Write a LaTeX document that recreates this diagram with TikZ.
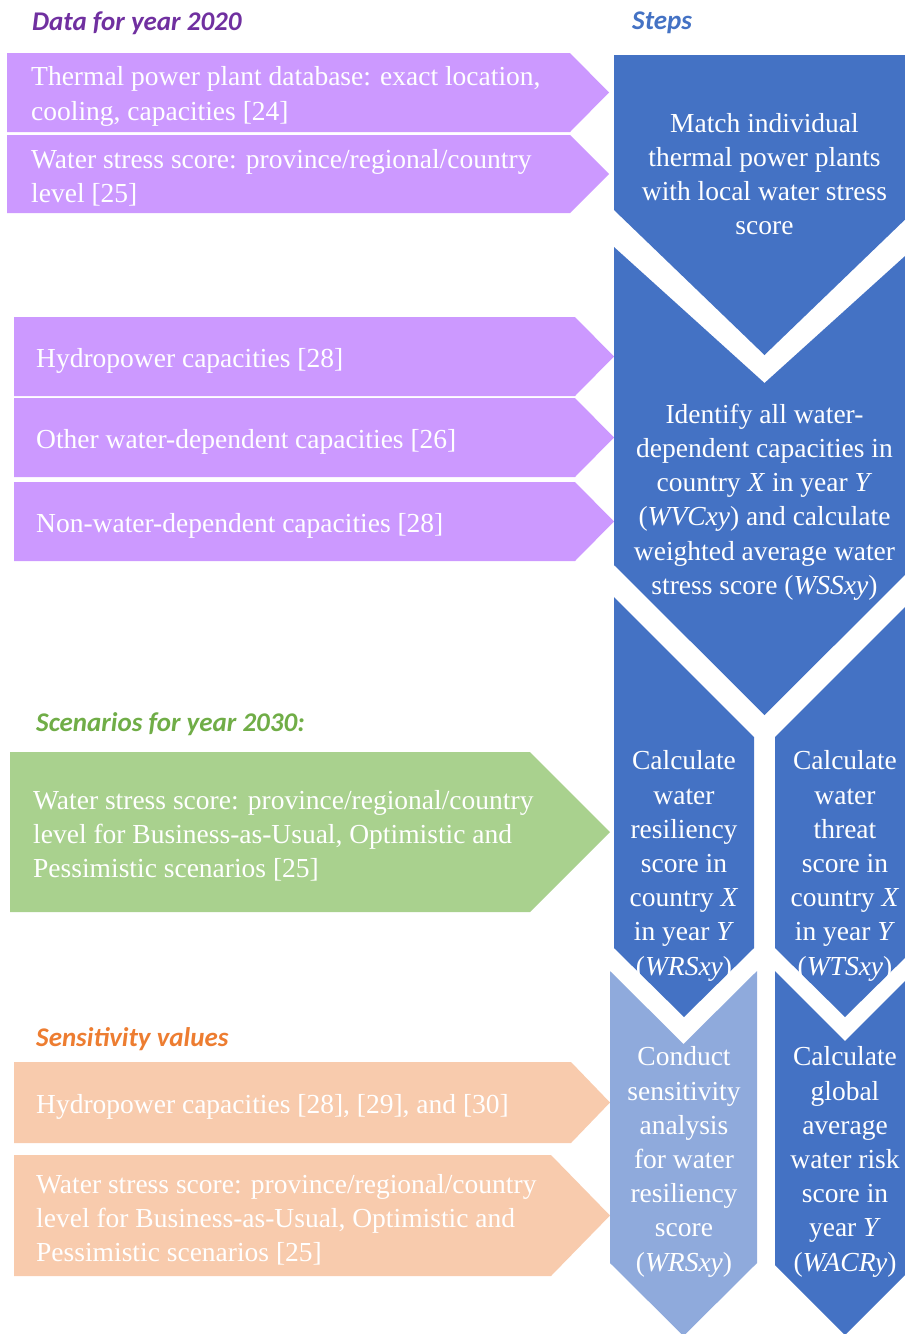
\documentclass[tikz,border=0pt]{standalone}
\usepackage{fontspec}
\setmainfont{Liberation Serif}
\newfontfamily\headfont{Carlito}
\definecolor{cPurple}{HTML}{CC99FF}
\definecolor{cDarkPurple}{HTML}{7030A0}
\definecolor{cGreen}{HTML}{A9D18E}
\definecolor{cDarkGreen}{HTML}{70AD47}
\definecolor{cOrange}{HTML}{F8CBAD}
\definecolor{cDarkOrange}{HTML}{ED7D31}
\definecolor{cBlue}{HTML}{4472C4}
\definecolor{cLightBlue}{HTML}{8FAADC}

\begin{document}
\begin{tikzpicture}[x=1pt,y=-1pt,
		heading/.style={anchor=base west,inner sep=0pt,font=\headfont\bfseries\itshape\fontsize{27}{32}\selectfont},
		boxtext/.style={anchor=west,align=left,text=white,inner sep=0pt,yshift=-4pt,font=\fontsize{27.5}{34.2}\selectfont},
		steptext/.style={align=center,text=white,inner sep=0pt,yshift=-3pt,font=\fontsize{27.5}{34.2}\selectfont}]
		\useasboundingbox (0,0) rectangle (905,1334);
		\clip (0,0) rectangle (905,1334);
		% headings
		\node[heading,text=cDarkPurple] (hdata) at (32,30) {Data for year 2020};
		\node[heading,text=cBlue] (hsteps) at (632,29) {Steps};
		\node[heading,text=cDarkGreen] (hscen) at (36,731) {Scenarios for year 2030:};
		\node[heading,text=cDarkOrange] (hsens) at (36,1046) {Sensitivity values};
		% input arrows
		\fill[cPurple] (7,53) -- (570,53) -- (609,92.5) -- (570,132) -- (7,132) -- cycle;
		\fill[cPurple] (7,135) -- (570,135) -- (609,174) -- (570,213) -- (7,213) -- cycle;
		\fill[cPurple] (14,317) -- (575,317) -- (614,356.5) -- (575,396) -- (14,396) -- cycle;
		\fill[cPurple] (14,398) -- (575,398) -- (614,437.5) -- (575,477) -- (14,477) -- cycle;
		\fill[cPurple] (14,482) -- (575,482) -- (614,521.5) -- (575,561) -- (14,561) -- cycle;
		\fill[cGreen] (10,752) -- (530,752) -- (610,832) -- (530,912) -- (10,912) -- cycle;
		\fill[cOrange] (14,1062) -- (571,1062) -- (610,1102.5) -- (571,1143) -- (14,1143) -- cycle;
		\fill[cOrange] (14,1155) -- (551,1155) -- (610,1215.5) -- (551,1276) -- (14,1276) -- cycle;
		\node[boxtext] (thermal) at (31,92.5) {Thermal power plant database: exact location,\\cooling, capacities [24]};
		\node[boxtext] (stress) at (31,174) {Water stress score: province/regional/country\\level [25]};
		\node[boxtext] (hydro) at (36,356.5) {Hydropower capacities [28]};
		\node[boxtext] (otherwd) at (36,437.5) {Other water-dependent capacities [26]};
		\node[boxtext] (nonwd) at (36,521.5) {Non-water-dependent capacities [28]};
		\node[boxtext] (scen) at (33,832) {Water stress score: province/regional/country\\level for Business-as-Usual, Optimistic and\\Pessimistic scenarios [25]};
		\node[boxtext] (senshydro) at (36,1102.5) {Hydropower capacities [28], [29], and [30]};
		\node[boxtext] (sensstress) at (36,1215.5) {Water stress score: province/regional/country\\level for Business-as-Usual, Optimistic and\\Pessimistic scenarios [25]};
		% step chevrons
		\fill[cBlue] (614,55) -- (915,55) -- (915,210) -- (764.5,355) -- (614,210) -- cycle;
		\fill[cBlue] (614,247) -- (764.5,383) -- (915,247) -- (915,565) -- (764.5,715) -- (614,565) -- cycle;
		\fill[cBlue] (614,597) -- (754,737) -- (754,948) -- (684,1017) -- (614,948) -- cycle;
		\fill[cBlue] (775,737) -- (915,597) -- (915,948) -- (845,1017) -- (775,948) -- cycle;
		\fill[cLightBlue] (610,971) -- (683.5,1044) -- (757,971) -- (757,1263) -- (683.5,1336) -- (610,1263) -- cycle;
		\fill[cBlue] (775,971) -- (845,1041) -- (915,971) -- (915,1265) -- (845,1335) -- (775,1265) -- cycle;
		\node[steptext] (match) at (764.5,171) {Match individual\\thermal power plants\\with local water stress\\score};
		\node[steptext] (identify) at (764.5,499) {Identify all water-\\dependent capacities in\\country \textit{X} in year \textit{Y}\\(\textit{WVCxy}) and calculate\\weighted average water\\stress score (\textit{WSSxy})};
		\node[steptext] (resil) at (684,863) {Calculate\\water\\resiliency\\score in\\country \textit{X}\\in year \textit{Y}\\(\textit{WRSxy})};
		\node[steptext] (threat) at (845,863) {Calculate\\water\\threat\\score in\\country \textit{X}\\in year \textit{Y}\\(\textit{WTSxy})};
		\node[steptext] (sensit) at (684,1159) {Conduct\\sensitivity\\analysis\\for water\\resiliency\\score\\(\textit{WRSxy})};
		\node[steptext] (global) at (845,1159) {Calculate\\global\\average\\water risk\\score in\\year \textit{Y}\\(\textit{WACRy})};
\end{tikzpicture}
\end{document}
